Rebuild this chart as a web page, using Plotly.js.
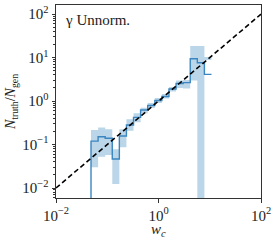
<!DOCTYPE html>
<html>
<head>
<meta charset="utf-8">
<script src="https://cdn.plot.ly/plotly-3.0.1.min.js"></script>
<style>html,body{margin:0;padding:0;background:#fff;}#chart{width:274px;height:240px;}</style>
</head>
<body>
<div id="chart"></div>
<script>
// bin edges in w_c (log-spaced)
const binEdges = [0.0482, 0.0663, 0.0911, 0.1253, 0.1722, 0.2368, 0.3256, 0.4477, 0.6157, 0.8467,
                  1.164, 1.601, 2.201, 3.027, 4.162, 5.722, 7.866, 10.82];
// ratio N_truth / N_gen per bin
const ratio = [0.120, 0.151, 0.139, 0.0464, 0.157, 0.281, 0.422, 0.621, 0.788, 1.03,
               1.27, 1.89, 2.53, 2.66, 9.38, 7.59, 4.11];
// uncertainty band upper / lower per bin
const bandHi = [0.216, 0.248, 0.224, 0.0776, 0.224, 0.380, 0.521, 0.701, 0.90, 1.17,
                1.45, 2.10, 2.96, 3.04, 18.4, 18.4, 10.3];
const bandLo = [0.0299, 0.0524, 0.0574, 0.0124, 0.0862, 0.208, 0.324, 0.521, 0.690, 0.90,
                1.14, 1.65, 1.99, 1.94, 2.96, 1e-6, 8.77];
// identity reference line
const diagX = [0.01, 100];
const yTickVals = [0.01, 0.1, 1, 10, 100];
const yTickText = ['10<sup>−2</sup>', '10<sup>−1</sup>', '10<sup>0</sup>', '10<sup>1</sup>', '10<sup>2</sup>'];
const xTickVals = [0.01, 1, 100];
const xTickText = ['10<sup>−2</sup>', '10<sup>0</sup>', '10<sup>2</sup>'];

const stepY = arr => arr.concat([arr[arr.length - 1]]);

const serif = '"Liberation Serif", "DejaVu Serif", serif';
const lineCol = '#3b86c0';
const fillCol = 'rgba(31,119,180,0.3)';

const traces = [
  {x: binEdges, y: stepY(bandLo), mode: 'lines', line: {shape: 'hv', width: 0, color: 'rgba(0,0,0,0)'},
   hoverinfo: 'skip', showlegend: false},
  {x: binEdges, y: stepY(bandHi), mode: 'lines', line: {shape: 'hv', width: 0, color: 'rgba(0,0,0,0)'},
   fill: 'tonexty', fillcolor: fillCol, hoverinfo: 'skip', showlegend: false},
  {x: [binEdges[0]].concat(binEdges.slice(0, -1), [binEdges[binEdges.length - 1]]),
   y: [1e-6].concat(ratio, [ratio[ratio.length - 1]]),
   mode: 'lines', line: {shape: 'hv', width: 1.4, color: lineCol}, showlegend: false},
  {x: diagX, y: diagX, mode: 'lines', line: {color: '#000', width: 1.6, dash: '5px,3px'}, showlegend: false}
];

const axBase = {
  type: 'log', showgrid: false, zeroline: false, showline: true, mirror: true,
  linecolor: '#333', linewidth: 1, ticks: 'outside', ticklen: 3.5, tickcolor: '#333',
  tickfont: {family: serif, size: 15, color: '#222'}, tickmode: 'array'
};

const layout = {
  width: 274, height: 240,
  margin: {l: 56, r: 13, t: 5, b: 42},
  paper_bgcolor: '#fff', plot_bgcolor: '#fff',
  xaxis: Object.assign({}, axBase, {
    range: [-2, 2], tickvals: xTickVals, ticktext: xTickText
  }),
  yaxis: Object.assign({}, axBase, {
    range: [-2.23, 2.21], tickvals: yTickVals, ticktext: yTickText,
    minor: {ticks: 'outside', ticklen: 2, tickcolor: '#333', dtick: 'D1', showgrid: false},
    title: {text: '<i>N</i><sub>truth</sub>/<i>N</i><sub>gen</sub>', font: {family: serif, size: 14, color: '#222'}, standoff: 3}
  }),
  annotations: [{
    text: 'γ Unnorm.', xref: 'paper', yref: 'paper', x: 0.034, y: 0.922,
    xanchor: 'left', yanchor: 'middle', showarrow: false,
    font: {family: serif, size: 15, color: '#222'}
  }, {
    text: '<i>w<sub>c</sub></i>', xref: 'paper', yref: 'paper', x: 0.5, y: -0.165,
    xanchor: 'center', yanchor: 'middle', showarrow: false,
    font: {family: serif, size: 15, color: '#222'}
  }]
};

Plotly.newPlot('chart', traces, layout, {displayModeBar: false, staticPlot: true});
</script>
</body>
</html>
